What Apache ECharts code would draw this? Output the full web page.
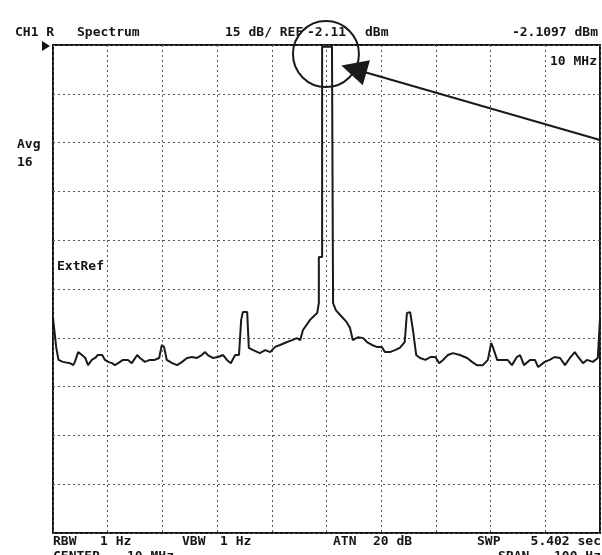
<!DOCTYPE html>
<html>
<head>
<meta charset="utf-8">
<script src="https://cdn.jsdelivr.net/npm/echarts@6/dist/echarts.min.js"></script>
<style>html,body{margin:0;padding:0;background:#fff;}#c{width:602px;height:555px;}</style>
</head>
<body>
<div id="c"></div>
<script>
// Frequency offset from center (Hz) and level (dBm) of the measured trace
const freqOffsetHz = [-50,-49.4,-49.0,-48.2,-46.9,-46.3,-46.0,-45.4,-44.7,-44.1,-43.6,-42.9,-42.3,-41.8,-41.0,-40.5,-39.9,-39.2,-38.7,-38.1,-37.2,-36.3,-35.6,-34.6,-34.1,-33.2,-32.3,-31.4,-30.6,-30.1,-29.7,-29.2,-28.2,-27.3,-26.4,-25.5,-24.6,-23.7,-22.8,-22.2,-21.7,-20.8,-19.8,-18.9,-18.2,-17.5,-16.7,-16.0,-15.6,-15.3,-14.5,-14.2,-13.4,-12.2,-11.2,-10.3,-9.4,-8.5,-7.2,-6.3,-5.4,-4.8,-4.3,-3.0,-2.1,-1.7,-1.4,-1.4,-0.8,-0.8,1.0,1.2,1.7,2.5,3.7,4.3,4.8,5.8,6.7,7.4,8.3,9.2,10.1,10.7,11.6,12.5,13.4,14.3,14.7,15.3,15.8,16.4,17.1,18.1,19.0,19.9,20.6,21.3,22.2,23.1,24.4,25.7,26.6,27.5,28.6,29.5,30.1,30.4,31.2,33.1,33.9,34.8,35.4,36.1,37.2,38.1,38.7,39.9,40.8,41.7,42.7,43.6,44.5,45.4,46.0,46.9,47.6,48.7,49.6,50];
const levelDbm = [-83.9,-93.1,-96.8,-97.4,-97.8,-98.4,-97.4,-94.4,-95.3,-96.2,-98.4,-96.8,-96.2,-95.3,-95.3,-96.8,-97.4,-97.8,-98.4,-97.8,-96.8,-96.8,-97.8,-95.3,-96.2,-97.4,-96.8,-96.8,-96.2,-92.2,-92.8,-96.8,-97.8,-98.4,-97.4,-96.2,-95.9,-96.2,-95.3,-94.4,-95.3,-96.2,-95.9,-95.3,-96.8,-97.8,-95.3,-95.3,-84.5,-82.1,-82.1,-93.1,-93.8,-94.7,-93.8,-94.4,-92.8,-92.2,-91.3,-90.7,-90.1,-90.7,-87.6,-84.5,-83.0,-82.4,-79.3,-65.2,-65.2,-0.5,-0.5,-79.3,-81.5,-83.0,-85.2,-87.0,-90.7,-89.8,-90.1,-91.3,-92.2,-92.8,-92.8,-94.4,-94.4,-93.8,-93.1,-91.3,-82.4,-82.1,-87.6,-95.3,-96.2,-96.8,-95.9,-95.9,-97.8,-96.8,-95.3,-94.7,-95.3,-96.2,-97.4,-98.4,-98.4,-96.8,-91.6,-92.8,-96.8,-96.8,-98.4,-95.9,-95.3,-98.4,-96.8,-96.8,-99.0,-97.4,-96.8,-95.9,-96.2,-98.4,-96.2,-94.4,-95.9,-97.8,-96.8,-97.4,-96.2,-83.9];

// Axis settings: 10 Hz/div span 100 Hz, 15 dB/div
const xMin = -50, xMax = 50, xStep = 10;
const yMin = -150, yMax = 0, yStep = 15;

// Annotation anchors (data coordinates)
const circleCenter = [-0.1, -2.8];
const arrowFrom = [50, -29.2];
const arrowTo = [5.0, -7.4];
const refMarker = [-50, 0];

const trace = freqOffsetHz.map((f, i) => [f, levelDbm[i]]);

const FONT = 'bold 13px "DejaVu Sans Mono", monospace';
function txt(s, x, y, align) {
  return { type: 'text', x: x, y: y, silent: true,
    style: { text: s, font: FONT, fill: '#151515', align: align || 'left', verticalAlign: 'middle' } };
}

const chart = echarts.init(document.getElementById('c'), null, { renderer: 'canvas' });
chart.setOption({
  animation: false,
  backgroundColor: '#ffffff',
  grid: { left: 53, right: 2, top: 45, bottom: 22, show: true, borderColor: '#151515', borderWidth: 2, backgroundColor: 'transparent' },
  xAxis: {
    type: 'value', min: xMin, max: xMax, interval: xStep,
    axisLine: { show: false }, axisTick: { show: false }, axisLabel: { show: false },
    splitLine: { show: true, lineStyle: { color: '#555', width: 1, type: [2, 3] } }
  },
  yAxis: {
    type: 'value', min: yMin, max: yMax, interval: yStep,
    axisLine: { show: false }, axisTick: { show: false }, axisLabel: { show: false },
    splitLine: { show: true, lineStyle: { color: '#555', width: 1, type: [2, 3] } }
  },
  series: [{
    type: 'line',
    data: trace,
    showSymbol: false,
    clip: false,
    lineStyle: { color: '#1a1a1a', width: 2 },
    markPoint: {
      silent: true,
      label: { show: false },
      data: [
        { coord: circleCenter, symbol: 'circle', symbolSize: 66,
          itemStyle: { color: 'rgba(0,0,0,0)', borderColor: '#1a1a1a', borderWidth: 2 } },
        { coord: refMarker, symbol: 'triangle', symbolSize: [10, 8], symbolRotate: -90, symbolOffset: [-7, 1],
          itemStyle: { color: '#111' } }
      ]
    },
    markLine: {
      silent: true,
      symbol: ['none', 'triangle'],
      label: { show: false },
      lineStyle: { color: '#1a1a1a', width: 2, type: 'solid' },
      data: [[ { coord: arrowFrom, symbol: 'none' },
               { coord: arrowTo, symbol: 'triangle', symbolSize: 26, itemStyle: { color: '#222' } } ]]
    }
  }],
  graphic: [
    txt('CH1 R', 15, 33),
    txt('Spectrum', 77, 33),
    txt('15 dB/ REF', 225, 33),
    txt('-2.11', 307, 33),
    txt('dBm', 365, 33),
    txt('-2.1097 dBm', 598, 33, 'right'),
    txt('10 MHz', 597, 62, 'right'),
    txt('Avg', 17, 145),
    txt('16', 17, 163),
    txt('ExtRef', 57, 267),
    txt('RBW', 53, 542),
    txt('1 Hz', 100, 542),
    txt('VBW', 182, 542),
    txt('1 Hz', 220, 542),
    txt('ATN', 333, 542),
    txt('20 dB', 373, 542),
    txt('SWP', 477, 542),
    txt('5.402 sec', 601, 542, 'right'),
    txt('CENTER', 53, 557),
    txt('10 MHz', 127, 557),
    txt('SPAN', 498, 557),
    txt('100 Hz', 601, 557, 'right')
  ]
});
</script>
</body>
</html>
